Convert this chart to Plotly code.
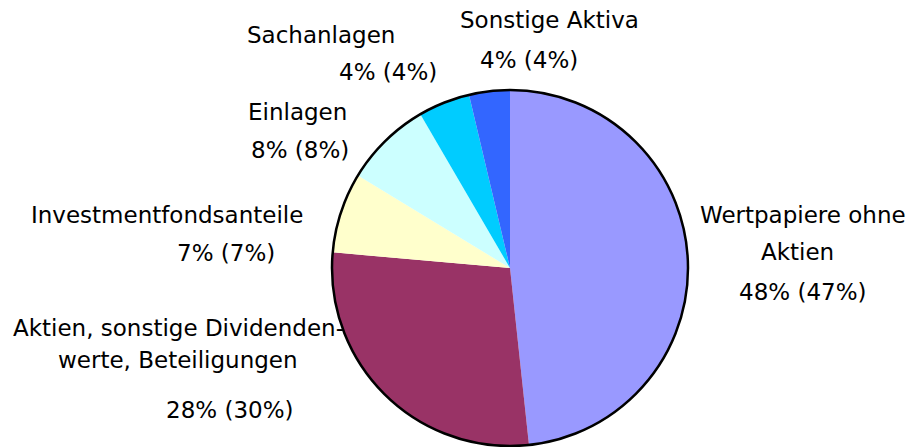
import plotly.graph_objects as go

categories = ["Wertpapiere ohne Aktien", "Aktien, sonstige Dividendenwerte, Beteiligungen",
              "Investmentfondsanteile", "Einlagen", "Sachanlagen", "Sonstige Aktiva"]
values = [48.3, 28.1, 7.3, 7.9, 4.7, 3.7]
colors = ["#9999FF", "#993366", "#FFFFCC", "#CCFFFF", "#00CCFF", "#3366FF"]

# label text lines (name lines and percent line)
label_lines = [
    ["Wertpapiere ohne", "Aktien", "48% (47%)"],
    ["Aktien, sonstige Dividenden-", "werte, Beteiligungen", "28% (30%)"],
    ["Investmentfondsanteile", "7% (7%)"],
    ["Einlagen", "8% (8%)"],
    ["Sachanlagen", "4% (4%)"],
    ["Sonstige Aktiva", "4% (4%)"],
]
# pixel centres of each label line
label_pos = [
    [(803, 215), (797, 252), (803, 292)],
    [(178, 328), (178, 360), (230, 410)],
    [(167, 215), (226, 253)],
    [(297, 112), (300, 150)],
    [(321, 35), (388, 72)],
    [(549, 20), (529, 60)],
]

W, H = 914, 447
cx, cy, r = 510, 268, 178
dom_x = [(cx - r) / W, (cx + r) / W]
dom_y = [1 - (cy + r) / H, 1 - (cy - r) / H]

fig = go.Figure()
fig.add_trace(go.Pie(
    labels=categories, values=values, sort=False, direction="clockwise", rotation=0,
    marker=dict(colors=colors, line=dict(width=0)),
    textinfo="none", hoverinfo="label+percent", showlegend=False,
    domain=dict(x=dom_x, y=dom_y),
))
fig.add_trace(go.Pie(
    labels=["outline"], values=[1], sort=False,
    marker=dict(colors=["rgba(0,0,0,0)"], line=dict(color="black", width=2.5)),
    textinfo="none", hoverinfo="skip", showlegend=False,
    domain=dict(x=dom_x, y=dom_y),
))

annotations = []
for lines, poss in zip(label_lines, label_pos):
    for t, (px, py) in zip(lines, poss):
        annotations.append(dict(
            text=t, x=px / W, y=1 - py / H, xref="paper", yref="paper",
            xanchor="center", yanchor="middle", showarrow=False,
            font=dict(family="DejaVu Sans", size=23, color="black"),
        ))

fig.update_layout(
    width=W, height=H, margin=dict(l=0, r=0, t=0, b=0),
    paper_bgcolor="white", plot_bgcolor="white",
    annotations=annotations,
)
fig.write_html("out.html")
